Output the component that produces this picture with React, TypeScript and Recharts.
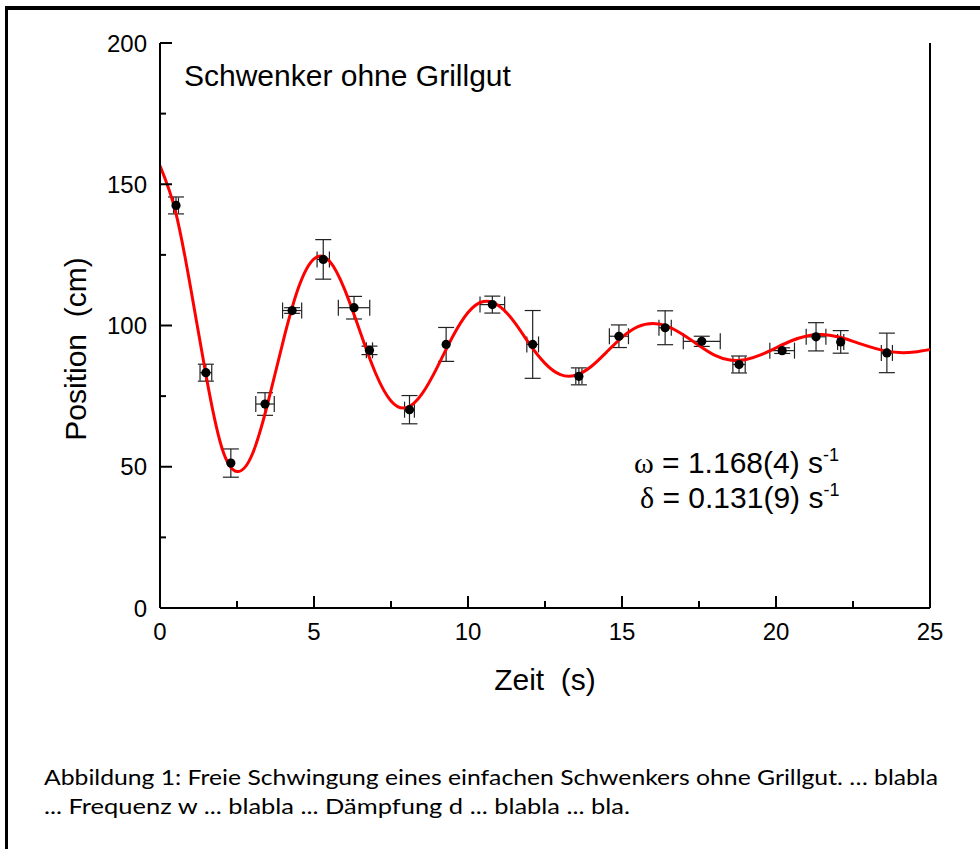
import React from 'react';
import { ComposedChart, XAxis, YAxis, Line, Scatter, ErrorBar, ReferenceLine } from 'recharts';

// Fitted damped oscillation
const fitTime = [0, 0.5, 1, 1.5, 2, 2.5, 3, 3.5, 4, 4.5, 5, 5.5, 6, 6.5, 7, 7.5, 8, 8.5, 9, 9.5, 10, 10.5, 11, 11.5, 12, 12.5, 13, 13.5, 14, 14.5, 15, 15.5, 16, 16.5, 17, 17.5, 18, 18.5, 19, 19.5, 20, 20.5, 21, 21.5, 22, 22.5, 23, 23.5, 24, 24.5, 25];
const fitPosition = [156.5, 140.5, 113, 82, 57, 48.3, 54.5, 72.5, 94.5, 113.5, 123.6, 122.8, 112.6, 97.7, 83.1, 73.3, 70.9, 75.7, 85.2, 96, 104.6, 108.5, 107, 101.3, 93.4, 86.6, 82.6, 82.4, 85.5, 90.6, 95.8, 99.5, 100.7, 99.6, 96.6, 92.9, 89.5, 87.8, 87.9, 89.6, 92.1, 94.6, 96.3, 96.8, 96, 94.4, 92.6, 91.1, 90.4, 90.6, 91.5];

// Measured points
const pointTime = [0.52, 1.49, 2.3, 3.41, 4.29, 5.3, 6.3, 6.8, 8.1, 9.29, 10.79, 12.1, 13.6, 14.9, 16.4, 17.59, 18.8, 20.2, 21.3, 22.1, 23.6];
const pointPosition = [142.5, 83.3, 51.3, 72.2, 105.3, 123.4, 106.3, 91.2, 70.2, 93.3, 107.4, 93.3, 82, 96.2, 99.2, 94.4, 86.2, 91.1, 96, 94.2, 90.3];
const pointTimeErr = [0.08, 0.19, 0, 0.3, 0.31, 0.2, 0.51, 0.1, 0.16, 0, 0.4, 0.19, 0.1, 0.31, 0.2, 0.6, 0.2, 0.4, 0.32, 0.1, 0.18];
const pointPosErr = [3, 3, 5, 4, 1, 7, 4, 1.5, 5, 6, 3, 12, 3, 4, 6, 1.8, 3, 1, 5, 4, 7];

const xTicks = [0, 2.5, 5, 7.5, 10, 12.5, 15, 17.5, 20, 22.5, 25];
const yTicks = [0, 25, 50, 75, 100, 125, 150, 175, 200];

const chartTitle = 'Schwenker ohne Grillgut';
const xTitle = 'Zeit\u00A0 (s)';
const yTitle = 'Position\u00A0 (cm)';
const omegaText = ' = 1.168(4) s';
const deltaText = ' = 0.131(9) s';
const captionLine1 = 'Abbildung 1: Freie Schwingung eines einfachen Schwenkers ohne Grillgut. \u2026 blabla';
const captionLine2 = '... Frequenz w ... blabla ... Dämpfung d ... blabla ... bla.';

const fitData = fitTime.map((t, i) => ({ t, v: fitPosition[i] }));
const pointData = pointTime.map((t, i) => ({ t, v: pointPosition[i], ex: pointTimeErr[i], ey: pointPosErr[i] }));

const FONT = '"Liberation Sans", Arial, sans-serif';
const Y_MARGIN = 13;
const X_MARGIN = 15;

const YTick = (props: any) => {
  const { x, y, payload } = props;
  const v = payload.value;
  const major = v % 50 === 0;
  const ax = x + Y_MARGIN;
  return (
    <g>
      <line x1={ax} x2={ax + (major ? 12 : 6)} y1={y} y2={y} stroke="#000" strokeWidth={2} />
      {major && (
        <text x={x} y={y} dy="0.36em" textAnchor="end" fontSize={24} fontFamily={FONT} fill="#000">{v}</text>
      )}
    </g>
  );
};

const XTick = (props: any) => {
  const { x, y, payload } = props;
  const v = payload.value;
  const major = v % 5 === 0;
  const ay = y - X_MARGIN;
  return (
    <g>
      <line x1={x} x2={x} y1={ay} y2={ay - (major ? 12 : 7)} stroke="#000" strokeWidth={2} />
      {major && (
        <text x={x} y={y} dy="0.72em" textAnchor="middle" fontSize={24} fontFamily={FONT} fill="#000">{v}</text>
      )}
    </g>
  );
};

const TopTick = (props: any) => {
  const { x, y } = props;
  return <line x1={x} x2={x} y1={y} y2={y + 7} stroke="#000" strokeWidth={2} />;
};

export default function App() {
  return (
    <div style={{ position: 'fixed', left: 0, top: 0, width: 980, height: 849, overflow: 'hidden', background: '#fff' }}>
      <div style={{ position: 'absolute', left: 0, top: 0 }}>
        <ComposedChart width={980} height={720} margin={{ top: 43, right: 50, bottom: 0, left: 80 }}>
          <XAxis
            xAxisId="main"
            dataKey="t"
            type="number"
            domain={[0, 25]}
            ticks={xTicks}
            interval={0}
            tickSize={0}
            tickMargin={X_MARGIN}
            tickLine={false}
            tick={<XTick />}
            axisLine={{ stroke: '#000', strokeWidth: 2 }}
            height={112}
            allowDataOverflow
          />
          <XAxis
            xAxisId="top"
            orientation="top"
            dataKey="t"
            type="number"
            domain={[0, 25]}
            ticks={xTicks}
            interval={0}
            tickSize={0}
            tickMargin={0}
            tickLine={false}
            tick={<TopTick />}
            axisLine={{ stroke: '#000', strokeWidth: 2 }}
            height={0}
            allowDataOverflow
          />
          <YAxis
            yAxisId="main"
            type="number"
            domain={[0, 200]}
            ticks={yTicks}
            interval={0}
            tickSize={0}
            tickMargin={Y_MARGIN}
            tickLine={false}
            tick={<YTick />}
            axisLine={{ stroke: '#000', strokeWidth: 2 }}
            width={80}
            allowDataOverflow
          />
          <ReferenceLine xAxisId="main" yAxisId="main" x={25} stroke="#000" strokeWidth={2} />
          <Scatter
            xAxisId="main"
            yAxisId="main"
            data={pointData}
            dataKey="v"
            fill="#000"
            shape={(p: any) => <circle cx={p.cx} cy={p.cy} r={4.6} fill="#000" />}
            isAnimationActive={false}
          >
            <ErrorBar dataKey="ey" direction="y" width={8} stroke="#222" strokeWidth={1.2} />
            <ErrorBar dataKey="ex" direction="x" width={8} stroke="#222" strokeWidth={1.2} />
          </Scatter>
          <Line
            xAxisId="main"
            yAxisId="main"
            data={fitData}
            dataKey="v"
            type="natural"
            stroke="#ff0000"
            strokeWidth={3}
            dot={false}
            activeDot={false}
            isAnimationActive={false}
          />
        </ComposedChart>
      </div>
      <div style={{ position: 'absolute', left: 5, top: 6, width: 990, height: 900, borderTop: '4px solid #000', borderLeft: '3px solid #000', boxSizing: 'border-box', pointerEvents: 'none' }} />
      <svg width={980} height={849} style={{ position: 'absolute', left: 0, top: 0, pointerEvents: 'none' }}>
        <text x={184} y={86} fontSize={30} fontFamily={FONT} fill="#000">{chartTitle}</text>
        <text x={545} y={690} fontSize={30} fontFamily={FONT} textAnchor="middle" fill="#000" style={{ whiteSpace: 'pre' }}>{xTitle}</text>
        <text x={86} y={349} fontSize={30} fontFamily={FONT} textAnchor="middle" fill="#000" transform="rotate(-90 86 349)" style={{ whiteSpace: 'pre' }}>{yTitle}</text>
        <text x={634} y={473} fontSize={30} fontFamily={FONT} fill="#000">
          <tspan fontFamily='"Liberation Serif", serif'>ω</tspan>
          <tspan>{omegaText}</tspan>
          <tspan fontSize={18} dy={-12}>-1</tspan>
        </text>
        <text x={640} y={508} fontSize={30} fontFamily={FONT} fill="#000">
          <tspan fontFamily='"Liberation Serif", serif'>δ</tspan>
          <tspan>{deltaText}</tspan>
          <tspan fontSize={18} dy={-12}>-1</tspan>
        </text>
        <text x={44} y={785} fontSize={22} fontFamily="Lato, 'Open Sans', sans-serif" fill="#000" textLength={894} lengthAdjust="spacingAndGlyphs">{captionLine1}</text>
        <text x={44} y={814} fontSize={22} fontFamily="Lato, 'Open Sans', sans-serif" fill="#000" textLength={586} lengthAdjust="spacingAndGlyphs">{captionLine2}</text>
      </svg>
    </div>
  );
}
